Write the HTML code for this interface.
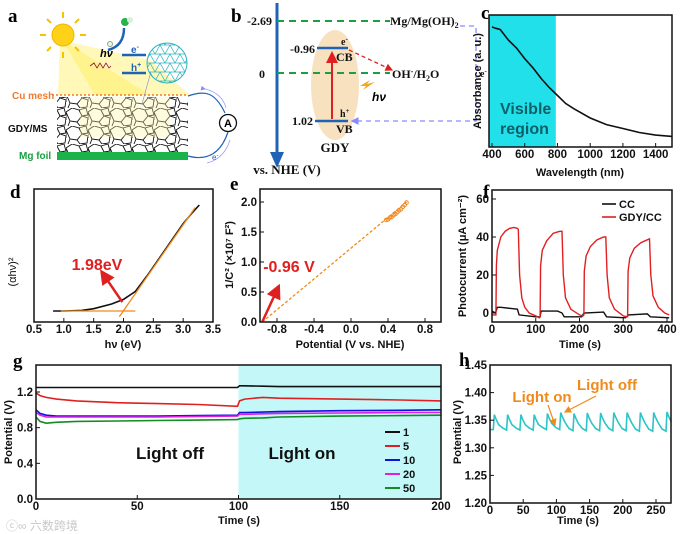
<!DOCTYPE html>
<html><head><meta charset="utf-8"><style>
body{margin:0;background:#fff}
svg{display:block}
text{font-family:"Liberation Sans",Arial,sans-serif}
.lt{font-family:"Liberation Serif",serif;font-weight:bold;font-size:19px}
.tk{font-size:11.5px;font-weight:bold;fill:#111}
.al{font-size:11px;font-weight:bold;fill:#111}
.sr{font-family:"Liberation Serif",serif;font-weight:bold;fill:#111}
</style></head><body>
<svg id="fig" width="680" height="534" viewBox="0 0 680 534" xmlns="http://www.w3.org/2000/svg">
<defs>
<pattern id="rock" width="22" height="18" patternUnits="userSpaceOnUse">
<path d="M0 4 L6 0 L13 2 L16 8 L11 14 L4 13 Z M13 2 L20 0 L22 7 L16 8 M16 8 L22 10 L21 17 L14 18 L11 14 M4 13 L2 18 M0 4 L0 12" fill="none" stroke="#111" stroke-width="0.9"/>
</pattern>
<pattern id="mesh" width="10" height="9" patternUnits="userSpaceOnUse">
<path d="M0 0 L10 0 M0 0 L5 9 L10 0 M0 9 L10 9" fill="none" stroke="#2bb3c0" stroke-width="0.7"/>
</pattern>
<marker id="ar" markerWidth="6" markerHeight="6" refX="5" refY="3" orient="auto"><path d="M0 0 L6 3 L0 6 Z" fill="#e02020"/></marker>
<marker id="arp" markerWidth="6" markerHeight="6" refX="5" refY="3" orient="auto"><path d="M0 0 L6 3 L0 6 Z" fill="#8a8aff"/></marker>
<marker id="aro" markerWidth="6" markerHeight="6" refX="5" refY="3" orient="auto"><path d="M0 0 L6 3 L0 6 Z" fill="#f08a1c"/></marker>
</defs>

<!-- Panel a -->
<g>
<text class="lt" x="8" y="22">a</text>
<polygon points="60,40 58,95 190,95 150,60" fill="#fff5a0" opacity="0.75"/>
<polygon points="62,40 95,95 150,95" fill="#fff070" opacity="0.6"/>
<g>
<circle cx="63" cy="35" r="11" fill="#ffd21a" stroke="#f2b400"/>
<g stroke="#f5c400" stroke-width="2">
<line x1="63" y1="18" x2="63" y2="12"/><line x1="63" y1="52" x2="63" y2="58"/><line x1="46" y1="35" x2="40" y2="35"/><line x1="80" y1="35" x2="86" y2="35"/>
<line x1="51" y1="23" x2="47" y2="19"/><line x1="75" y1="23" x2="79" y2="19"/><line x1="51" y1="47" x2="47" y2="51"/><line x1="75" y1="47" x2="79" y2="51"/></g></g>
<rect x="57" y="97" width="131" height="55" fill="url(#rock)"/>
<rect x="80" y="97" width="90" height="40" fill="#fff3a0" opacity="0.35"/>
<line x1="52" y1="95" x2="188" y2="95" stroke="#f07a30" stroke-width="1.5" stroke-dasharray="2,2"/>
<rect x="57" y="152" width="131" height="8" fill="#19b34a"/>
<text x="12" y="99" font-family="Liberation Serif" font-weight="bold" font-size="10" fill="#f07a30">Cu mesh</text>
<text x="8" y="132" font-family="Liberation Serif" font-weight="bold" font-size="10" fill="#111">GDY/MS</text>
<text x="19" y="159" font-family="Liberation Serif" font-weight="bold" font-size="10" fill="#19a040">Mg foil</text>
<circle cx="167" cy="63" r="20" fill="url(#mesh)" stroke="#2bb3c0"/>
<line x1="150" y1="75" x2="142" y2="104" stroke="#8888cc" stroke-width="0.6"/>
<line x1="122" y1="55" x2="146" y2="55" stroke="#1f64b4" stroke-width="2.5"/>
<line x1="122" y1="73" x2="146" y2="73" stroke="#1f64b4" stroke-width="2.5"/>
<text x="131" y="53" font-size="10" font-weight="bold" fill="#1f64b4">e<tspan font-size="7" dy="-4">-</tspan></text>
<text x="131" y="71" font-size="10" font-weight="bold" fill="#1f64b4">h<tspan font-size="7" dy="-4">+</tspan></text>
<text x="100" y="57" font-family="Liberation Serif" font-style="italic" font-weight="bold" font-size="11">hν</text>
<path d="M90 66 l4 -3 l3 5 l3 -5 l3 5 l3 -5 l3 5 l2 -2" fill="none" stroke="#8a1a3a" stroke-width="0.8"/>
<path d="M124 28 q0 18 -16 22" fill="none" stroke="#1f64b4" stroke-width="2.5"/>
<circle cx="125" cy="22" r="4" fill="#27b34a"/><circle cx="130" cy="20" r="3" fill="#d8f0d8"/>
<circle cx="110" cy="44" r="2.5" fill="#e8f5e8" stroke="#8a8"/>
<path d="M188 96 C205 90 215 92 225 113" fill="none" stroke="#1f64b4" stroke-width="1.2"/>
<path d="M188 156 C210 162 222 150 228 132" fill="none" stroke="#1f64b4" stroke-width="1.2"/>
<path d="M205 89 C218 92 224 100 226 108" fill="none" stroke="#9a9aff" stroke-width="0.8" marker-start="url(#arp)"/>
<path d="M207 163 C220 160 227 150 230 140" fill="none" stroke="#9a9aff" stroke-width="0.8"/>
<circle cx="228" cy="123" r="8.5" fill="#fff" stroke="#111" stroke-width="1.3"/>
<text x="228" y="127" text-anchor="middle" font-size="11" font-weight="bold">A</text>
<text x="212" y="160" font-size="8" fill="#1f64b4">e<tspan font-size="6" dy="-3">-</tspan></text>
</g>

<!-- Panel b -->
<g>
<text class="lt" x="231" y="22">b</text>
<ellipse cx="335" cy="85" rx="24" ry="55" fill="#f7dcb4" opacity="0.85"/>
<line x1="277" y1="3" x2="277" y2="155" stroke="#1f64b4" stroke-width="3"/>
<polygon points="270,152 284,152 277,168" fill="#1f64b4"/>
<line x1="277" y1="21" x2="390" y2="21" stroke="#1aa040" stroke-width="2" stroke-dasharray="7,5"/>
<line x1="277" y1="73" x2="390" y2="73" stroke="#1aa040" stroke-width="2" stroke-dasharray="7,5"/>
<text class="sr" x="272" y="25" text-anchor="end" font-size="12">-2.69</text>
<text class="sr" x="265" y="78" text-anchor="end" font-size="12">0</text>
<text class="sr" x="315" y="53" text-anchor="end" font-size="12">-0.96</text>
<text class="sr" x="313" y="125" text-anchor="end" font-size="12">1.02</text>
<line x1="317" y1="48" x2="348" y2="48" stroke="#1f64b4" stroke-width="2.5"/>
<line x1="315" y1="121" x2="348" y2="121" stroke="#1f64b4" stroke-width="2.5"/>
<line x1="332" y1="119" x2="332" y2="53" stroke="#e02020" stroke-width="2" marker-end="url(#ar)"/>
<text class="sr" x="336" y="61" font-size="12">CB</text>
<text class="sr" x="336" y="133" font-size="12">VB</text>
<text class="sr" x="341" y="45" font-size="10">e<tspan font-size="7" dy="-4">-</tspan></text>
<text class="sr" x="340" y="117" font-size="10">h<tspan font-size="7" dy="-4">+</tspan></text>
<line x1="349" y1="50" x2="392" y2="70" stroke="#e02020" stroke-width="1.3" stroke-dasharray="4,3" marker-end="url(#ar)"/>
<text class="sr" x="335" y="152" text-anchor="middle" font-size="13">GDY</text>
<text class="sr" x="390" y="25" font-size="12">Mg/Mg(OH)<tspan font-size="8" dy="3">2</tspan></text>
<text class="sr" x="392" y="78" font-size="12">OH<tspan font-size="8" dy="-4">-</tspan><tspan dy="4">/H</tspan><tspan font-size="8" dy="3">2</tspan><tspan dy="-3">O</tspan></text>
<text class="sr" x="480" y="77" font-size="10">e<tspan font-size="7" dy="-4">-</tspan></text>
<polyline points="460,26 476,26 476,121 352,121" fill="none" stroke="#8a8aff" stroke-width="1.3" stroke-dasharray="5,4" marker-end="url(#arp)"/>
<path d="M360 86 l10 -6 l-3 4 l8 -2 l-12 8 l3 -4 z" fill="#f5a623"/>
<text x="372" y="101" font-family="Liberation Serif" font-style="italic" font-weight="bold" font-size="12">hν</text>
<text class="sr" x="287" y="174" text-anchor="middle" font-size="13">vs. NHE (V)</text>
</g>

<g id="charts"></g>
<text x="6" y="530" font-size="12" fill="#c8c8c8" font-family="Liberation Sans, Noto Sans CJK SC, sans-serif">ⓒ∞ 六数跨境</text>
</svg>
<script>
// ---------- data ----------
const cWavelength=[400,420,450,500,550,600,650,700,750,800,850,900,1000,1100,1200,1300,1400,1500];
const cAbsorb=[0.91,0.9,0.89,0.81,0.75,0.67,0.6,0.52,0.45,0.39,0.33,0.29,0.22,0.17,0.14,0.11,0.09,0.08];
const cXTicks=[400,600,800,1000,1200,1400];
const dEnergy=[0.82,1.0,1.3,1.5,1.8,2.0,2.2,2.4,2.6,2.8,3.0,3.15,3.27];
const dValue=[0.083,0.083,0.087,0.1,0.135,0.17,0.23,0.35,0.48,0.61,0.74,0.82,0.88];
const dTangentX=[1.93,3.2];const dTangentY=[0.04,0.86];
const dBaseX=[0.95,2.2];const dBaseY=[0.083,0.083];
const dXTicks=[0.5,1.0,1.5,2.0,2.5,3.0,3.5];
const eFitX=[-0.96,0.6];const eFitY=[0,2.0];
const eDataX=[0.38,0.4,0.42,0.44,0.46,0.48,0.5,0.52,0.54,0.56,0.58,0.6];
const eDataY=[1.7,1.71,1.74,1.75,1.78,1.8,1.83,1.86,1.88,1.92,1.95,1.99];
const eXTicks=[-0.8,-0.4,0.0,0.4,0.8];const eYTicks=[0.0,0.5,1.0,1.5,2.0];
const fRedT=[0,9,10,12,20,30,40,50,58,60,63,68,75,85,100,108,110,111,115,125,140,155,160,163,168,180,200,208,210,211,215,225,240,255,260,263,268,280,300,308,310,311,315,325,340,355,360,363,368,380,395,405];
const fRedI=[-1,-1,25,33,40,43,44.5,45,44.5,44,20,8,3,0,-1.5,-2.5,-2,25,33,38,42,43,43,20,8,2,-1,-1.5,-1,22,30,35,38.5,40,40,20,8,2,-1.5,-2,-2,22,29,34,37,38.5,39,20,9,3,0,-1];
const fBlkT=[0,8,12,20,40,58,62,100,110,112,150,160,165,205,210,255,262,305,312,355,362,405];
const fBlkI=[1,0,3,3,2.5,2,-1,-2,-2,1,1,0,-2,-2,0,0.5,-2,-2.5,-1,-0.5,-2,-2.5];
const fXTicks=[0,100,200,300,400];const fYTicks=[0,20,40,60];
const gTime=[0,2,5,10,20,40,60,80,99.5,100.5,103,112,120,150,180,200];
const g1=[1.25,1.25,1.25,1.25,1.25,1.25,1.25,1.25,1.25,1.27,1.27,1.265,1.26,1.26,1.26,1.26];
const g5=[1.19,1.16,1.14,1.12,1.1,1.08,1.07,1.06,1.04,1.1,1.12,1.14,1.13,1.12,1.11,1.1];
const g10=[1.0,0.96,0.94,0.93,0.93,0.93,0.93,0.935,0.94,0.97,0.97,0.975,0.98,0.99,0.995,1.0];
const g20=[0.97,0.94,0.92,0.92,0.92,0.92,0.92,0.925,0.93,0.95,0.95,0.955,0.96,0.965,0.97,0.97];
const g50=[0.92,0.87,0.85,0.86,0.87,0.875,0.88,0.885,0.89,0.9,0.905,0.91,0.92,0.93,0.935,0.94];
const gNames=["1","5","10","20","50"];
const gXTicks=[0,50,100,150,200];const gYTicks=[0.0,0.4,0.8,1.2];
const hStarts=[5,25,45,65,85,105,125,145,165,185,205,225,245,265];
const hPeaks=[1.36,1.36,1.36,1.36,1.362,1.364,1.362,1.363,1.363,1.364,1.364,1.364,1.364,1.365];
const hMins=[1.333,1.332,1.332,1.332,1.333,1.333,1.331,1.331,1.331,1.331,1.331,1.33,1.33,1.33];
const hXTicks=[0,50,100,150,200,250];const hYTicks=[1.20,1.25,1.30,1.35,1.40,1.45];

const NS="http://www.w3.org/2000/svg";
const root=document.getElementById('charts');
function mk(tag,attrs,parent){const e=document.createElementNS(NS,tag);for(const k in attrs)e.setAttribute(k,attrs[k]);(parent||root).appendChild(e);return e;}
function lin(d0,d1,r0,r1){return v=>r0+(v-d0)*(r1-r0)/(d1-d0);}
function pathOf(xs,ys,X,Y){return xs.map((x,i)=>(i?'L':'M')+X(x).toFixed(1)+' '+Y(ys[i]).toFixed(1)).join(' ');}
function frame(x0,y0,x1,y1,name){const r=mk('rect',{x:x0,y:y0,width:x1-x0,height:y1-y0,fill:'none',stroke:'#111','stroke-width':1.5});

return r;}
function xticks(vals,X,yb,fmt,name){vals.forEach(v=>{mk('line',{x1:X(v),x2:X(v),y1:yb,y2:yb-4,stroke:'#111','stroke-width':1});
const t=mk('text',{x:X(v),y:yb+11,'text-anchor':'middle',class:'tk'});t.textContent=fmt(v);

});}
function yticks(vals,Y,xl,fmt,name){vals.forEach(v=>{mk('line',{x1:xl,x2:xl+4,y1:Y(v),y2:Y(v),stroke:'#111','stroke-width':1});
const t=mk('text',{x:xl-3,y:Y(v)+4,'text-anchor':'end',class:'tk'});t.textContent=fmt(v);

});}
function label(txt,x,y,rot,name,extra){const t=mk('text',Object.assign({x:x,y:y,'text-anchor':'middle',class:'al'},extra||{}));t.textContent=txt;if(rot)t.setAttribute('transform','rotate(-90 '+x+' '+y+')');

return t;}
function letter(txt,x,y,name){const t=mk('text',{x:x,y:y,class:'lt'});t.textContent=txt;

}

// ---------- panel c ----------
(function(){const X=lin(400,1500,492,672),Y=lin(0,1,147,15);
mk('rect',{x:X(380),y:15,width:X(790)-X(380),height:132,fill:'#22e0ea'});
letter('c',481,19,'panel-c-label');
const p=mk('path',{d:pathOf(cWavelength,cAbsorb,X,Y),fill:'none',stroke:'#111','stroke-width':1.6});


frame(489,15,672,147,'panel-c-frame');
xticks(cXTicks,X,147,v=>v,'c-x-tick');
label('Wavelength (nm)',580,176,false,'c-x-axis-title');
label('Absorbance (a. u.)',481,81,true,'c-y-axis-title');
const v1=mk('text',{x:500,y:114,class:'al',style:'font-size:16px;fill:#0b5f66'});v1.textContent='Visible';


const v2=mk('text',{x:500,y:134,class:'al',style:'font-size:16px;fill:#0b5f66'});v2.textContent='region';

})();

// ---------- panel d ----------
(function(){const X=lin(0.5,3.5,34,213),Y=lin(0,1,322,189);
letter('d',10,198,'panel-d-label');
frame(34,189,213,322,'panel-d-frame');
const b=mk('path',{d:pathOf(dEnergy,dValue,X,Y),fill:'none',stroke:'#111','stroke-width':1.6});


const t=mk('path',{d:pathOf(dTangentX,dTangentY,X,Y),fill:'none',stroke:'#f08a1c','stroke-width':1.3});


const bl=mk('path',{d:pathOf(dBaseX,dBaseY,X,Y),fill:'none',stroke:'#f08a1c','stroke-width':1.3});


mk('line',{x1:X(1.98),y1:Y(0.15),x2:X(1.63),y2:Y(0.38),stroke:'#e02020','stroke-width':2.5,'marker-end':'url(#ar)'});
label('1.98eV',97,270,false,'bandgap-annotation',{style:'font-size:16px;fill:#e02020'});
xticks(dXTicks,X,322,v=>v.toFixed(1),'d-x-tick');
label('hν (eV)',123,348,false,'d-x-axis-title');
label('(αhν)²',16,272,true,'d-y-axis-title',{style:'font-weight:normal'});})();

// ---------- panel e ----------
(function(){const X=lin(-0.8,0.8,277,425),Y=lin(0,2,322,202);
letter('e',230,190,'panel-e-label');
frame(260,189,441,322,'panel-e-frame');
const f=mk('path',{d:pathOf(eFitX,eFitY,X,Y),fill:'none',stroke:'#f08a1c','stroke-width':1.3,'stroke-dasharray':'3,2'});


eDataX.forEach((x,i)=>{const c=mk('circle',{cx:X(x),cy:Y(eDataY[i]),r:1.8,fill:'none',stroke:'#f08a1c'});

});
mk('line',{x1:X(-0.96),y1:Y(0),x2:X(-0.78),y2:Y(0.6),stroke:'#e02020','stroke-width':2.5,'marker-end':'url(#ar)'});
label('-0.96 V',289,272,false,'flatband-annotation',{style:'font-size:16px;fill:#e02020'});
xticks(eXTicks,X,322,v=>v.toFixed(1),'e-x-tick');
yticks(eYTicks,Y,260,v=>v.toFixed(1),'e-y-tick');
label('Potential (V vs. NHE)',350,348,false,'e-x-axis-title');
label('1/C² (×10⁷ F²)',233,255,true,'e-y-axis-title');})();

// ---------- panel f ----------
(function(){const X=lin(0,400,492,667),Y=lin(0,60,313,199);
letter('f',483,198,'panel-f-label');
const k=mk('path',{d:pathOf(fBlkT,fBlkI,X,Y),fill:'none',stroke:'#111','stroke-width':1.4});


const r=mk('path',{d:pathOf(fRedT,fRedI,X,Y),fill:'none',stroke:'#e02020','stroke-width':1.4});


frame(492,190,672,322,'panel-f-frame');
xticks(fXTicks,X,322,v=>v,'f-x-tick');
yticks(fYTicks,Y,492,v=>v,'f-y-tick');
label('Time (s)',580,348,false,'f-x-axis-title');
label('Photocurrent (μA cm⁻²)',466,256,true,'f-y-axis-title');
[['CC','#111',204],['GDY/CC','#e02020',217]].forEach(e=>{mk('line',{x1:602,x2:616,y1:e[2],y2:e[2],stroke:e[1],'stroke-width':1.6});
const t=mk('text',{x:619,y:e[2]+4,class:'al'});t.textContent=e[0];

});})();

// ---------- panel g ----------
(function(){const X=lin(0,200,36,441),Y=lin(0,1.2,499,392);
letter('g',13,367,'panel-g-label');
mk('rect',{x:X(100),y:365,width:X(200)-X(100),height:134,fill:'#c4f8f8'});
const series=[g1,g5,g10,g20,g50],cols=['#111','#e02020','#1010e0','#e020e0','#158a25'];
series.forEach((s,i)=>{const p=mk('path',{d:pathOf(gTime,s,X,Y),fill:'none',stroke:cols[i],'stroke-width':1.6});


mk('line',{x1:385,x2:400,y1:432+i*14,y2:432+i*14,stroke:cols[i],'stroke-width':2});
const t=mk('text',{x:403,y:436+i*14,class:'al'});t.textContent=gNames[i];

});
frame(36,365,441,499,'panel-g-frame');
xticks(gXTicks,X,499,v=>v,'g-x-tick');
yticks(gYTicks,Y,36,v=>v.toFixed(1),'g-y-tick');
label('Time (s)',239,524,false,'g-x-axis-title');
label('Potential (V)',12,432,true,'g-y-axis-title');
label('Light off',170,459,false,'light-off-label',{style:'font-size:17px'});
label('Light on',302,459,false,'light-on-label',{style:'font-size:17px'});})();

// ---------- panel h ----------
(function(){const X=lin(0,250,490,656),Y=lin(1.20,1.45,503,365);
letter('h',459,366,'panel-h-label');
const ts=[0],vs=[hMins[0]];
hStarts.forEach((t0,i)=>{const pk=hPeaks[i],mn=hMins[i];const nx=(i+1<hMins.length)?hMins[i+1]:mn;
ts.push(t0,t0+1.5,t0+4,t0+8,t0+14,t0+20);vs.push(mn,pk,pk-0.008,pk-0.018,nx+0.004,nx);});
const keepT=[],keepV=[];ts.forEach((t,i)=>{if(t<=273){keepT.push(t);keepV.push(vs[i]);}});
const p=mk('path',{d:pathOf(keepT,keepV,X,Y),fill:'none',stroke:'#2cc4c8','stroke-width':1.6});


frame(490,365,671,503,'panel-h-frame');
xticks(hXTicks,X,503,v=>v,'h-x-tick');
yticks(hYTicks,Y,490,v=>v.toFixed(2),'h-y-tick');
label('Time (s)',578,524,false,'h-x-axis-title');
label('Potential (V)',461,432,true,'h-y-axis-title');
label('Light on',542,402,false,'h-light-on-label',{style:'font-size:15px;fill:#f08a1c'});
label('Light off',607,390,false,'h-light-off-label',{style:'font-size:15px;fill:#f08a1c'});
mk('line',{x1:548,y1:405,x2:555,y2:425,stroke:'#f08a1c','stroke-width':1.2,'marker-end':'url(#aro)'});
mk('line',{x1:596,y1:396,x2:565,y2:412,stroke:'#f08a1c','stroke-width':1.2,'marker-end':'url(#aro)'});})();
</script>
</body></html>
